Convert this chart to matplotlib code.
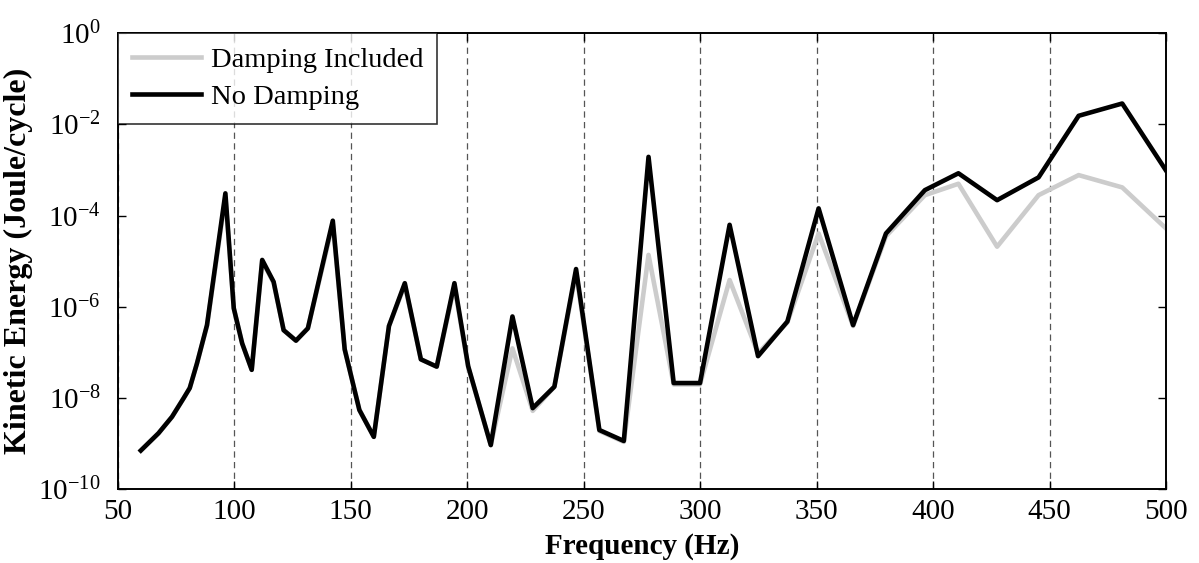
import numpy as np
import matplotlib
matplotlib.use("Agg")
import matplotlib.pyplot as plt
from matplotlib.ticker import FixedLocator, FuncFormatter

plt.rcParams['font.family'] = ['Liberation Serif', 'DejaVu Serif']
plt.rcParams['mathtext.fontset'] = 'custom'
plt.rcParams['mathtext.rm'] = 'Liberation Serif'
plt.rcParams['mathtext.it'] = 'Liberation Serif:italic'
plt.rcParams['mathtext.bf'] = 'Liberation Serif:bold'

# Frequencies (Hz)
freq = [60, 67.6, 73.4, 78.4, 81.0, 84.1, 88.4, 96.3, 99.9, 103.5, 107.6, 112.1,
        117.0, 121.3, 126.6, 131.7, 136.8, 142.4, 147.5, 153.8, 160.0, 166.5,
        173.3, 180.2, 187.0, 194.6, 200.5, 210.2, 219.5, 228.2, 237.5, 246.8,
        256.8, 267.3, 277.9, 288.7, 300.0, 312.7, 324.9, 337.5, 350.9, 365.7,
        379.8, 396.5, 410.9, 427.5, 445.3, 462.5, 481.2, 500.0]

# log10 of kinetic energy, no damping
log_no_damp = [-9.15, -8.77, -8.41, -8.00, -7.78, -7.24, -6.40, -3.51, -6.03, -6.80,
               -7.38, -4.97, -5.45, -6.51, -6.74, -6.47, -5.34, -4.11, -6.93, -8.26,
               -8.85, -6.42, -5.48, -7.15, -7.31, -5.48, -7.30, -9.03, -6.21, -8.22,
               -7.75, -5.17, -8.70, -8.94, -2.71, -7.67, -7.67, -4.20, -7.08, -6.32,
               -3.84, -6.40, -4.39, -3.44, -3.07, -3.66, -3.16, -1.81, -1.54, -3.01]

# log10 of kinetic energy, damping included
log_damp = [-9.15, -8.77, -8.41, -8.00, -7.78, -7.24, -6.42, -3.60, -6.03, -6.80,
            -7.38, -5.00, -5.47, -6.51, -6.74, -6.47, -5.38, -4.18, -6.93, -8.26,
            -8.85, -6.42, -5.52, -7.15, -7.31, -5.55, -7.32, -9.03, -6.91, -8.28,
            -7.75, -5.25, -8.72, -8.96, -4.86, -7.70, -7.70, -5.41, -7.02, -6.34,
            -4.39, -6.42, -4.45, -3.55, -3.30, -4.68, -3.55, -3.11, -3.38, -4.28]

no_damp = 10.0 ** np.array(log_no_damp)
damp = 10.0 ** np.array(log_damp)

x_ticks = [50, 100, 150, 200, 250, 300, 350, 400, 450, 500]
y_ticks = [1e-10, 1e-8, 1e-6, 1e-4, 1e-2, 1e0]

fig = plt.figure(figsize=(11.99, 5.63), dpi=100)
ax = fig.add_axes([0.098, 0.1309, 0.8745, 0.81])

ax.plot(freq, damp, color='#cccccc', lw=3.3, label='Damping Included', zorder=3)
ax.plot(freq, no_damp, color='black', lw=3.3, label='No Damping', zorder=4)

ax.set_yscale('log')
ax.set_xlim(50, 500)
ax.set_ylim(1e-10, 1e0)
ax.xaxis.set_major_locator(FixedLocator(x_ticks))
ax.yaxis.set_major_locator(FixedLocator(y_ticks))
ax.yaxis.set_minor_locator(FixedLocator([]))
ax.yaxis.set_major_formatter(FuncFormatter(
    lambda v, p: r'$\mathregular{10^{%d}}$' % int(round(np.log10(v)))))

ax.grid(True, axis='x', linestyle=(0, (5, 3.5)), color='#555555', lw=0.9)
ax.tick_params(direction='in', which='both', top=True, right=True,
               labelsize=21, length=6, width=1.0)
ax.tick_params(axis='y', pad=12)
ax.tick_params(axis='x', pad=7)
for s in ax.spines.values():
    s.set_linewidth(1.4)
    s.set_zorder(5)

ax.set_xlabel('Frequency (Hz)', fontsize=21, fontweight='bold', labelpad=6)
ax.set_ylabel('Kinetic Energy (Joule/cycle)', fontsize=23, fontweight='bold', labelpad=4)

leg = ax.legend(loc='upper left', fontsize=20.5, frameon=True, fancybox=False,
                borderaxespad=0, handlelength=2.45, handletextpad=0.32,
                borderpad=0.5, labelspacing=0.38)
leg.get_frame().set_edgecolor('black')
leg.get_frame().set_linewidth(1.2)
leg.set_zorder(6)

fig.savefig('out.png', dpi=100)
